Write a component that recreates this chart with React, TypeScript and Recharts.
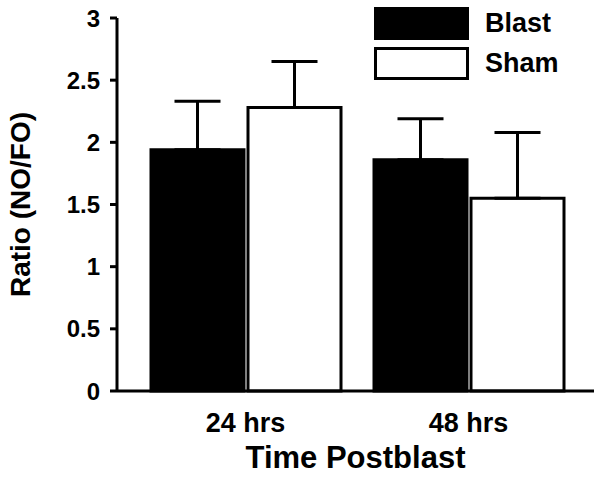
import { Bar, BarChart, ErrorBar, Legend, XAxis, YAxis } from "recharts";

const timepoints = ["24 hrs", "48 hrs"];
const blastMean = [1.94, 1.86];
const blastSem = [0.39, 0.33];
const shamMean = [2.28, 1.55];
const shamSem = [0.37, 0.53];
const yTicks = [0, 0.5, 1, 1.5, 2, 2.5, 3];

const FONT = "'Liberation Sans', Arial, sans-serif";

// error bars only go up, so the low side is 0
const rows = timepoints.map((t, i) => ({
  time: t,
  blast: blastMean[i],
  sham: shamMean[i],
  blastErr: [0, blastSem[i]],
  shamErr: [0, shamSem[i]],
}));

const legendItems = [
  { name: "Blast", fill: "#000" },
  { name: "Sham", fill: "#fff" },
];

function LegendBox() {
  return (
    <div style={{ fontFamily: FONT, fontWeight: 700, fontSize: 27 }}>
      {legendItems.map((it, i) => (
        <div
          key={it.name}
          style={{ display: "flex", alignItems: "center", height: 33, marginBottom: i === 0 ? 7 : 0 }}
        >
          <div
            style={{
              width: 95,
              height: 33,
              boxSizing: "border-box",
              background: it.fill,
              border: "3px solid #000",
            }}
          />
          <span style={{ marginLeft: 16, color: "#000", lineHeight: "33px" }}>{it.name}</span>
        </div>
      ))}
    </div>
  );
}

export default function App() {
  return (
    <div style={{ position: "absolute", left: 0, top: 0, background: "#fff" }}>
      <BarChart
        width={604}
        height={477}
        data={rows}
        margin={{ top: 18, right: 10, left: 0, bottom: 0 }}
        barCategoryGap={17}
        barGap={4}
      >
        <XAxis
          dataKey="time"
          height={86}
          padding={{ left: 17, right: 14 }}
          tickLine={false}
          tickSize={0}
          tickMargin={22}
          axisLine={{ stroke: "#000", strokeWidth: 3 }}
          tick={{ fill: "#000", fontSize: 27, fontWeight: 700, fontFamily: FONT }}
          label={{
            content: (p: any) => {
              const vb = p.viewBox;
              return (
                <text
                  x={vb.x + vb.width / 2}
                  y={468}
                  textAnchor="middle"
                  fill="#000"
                  fontSize={31}
                  fontWeight={700}
                  fontFamily={FONT}
                >
                  Time Postblast
                </text>
              );
            },
          }}
        />
        <YAxis
          width={117}
          domain={[0, 3]}
          ticks={yTicks}
          interval={0}
          tickSize={7}
          tickMargin={10}
          tickLine={{ stroke: "#000", strokeWidth: 3 }}
          axisLine={{ stroke: "#000", strokeWidth: 3 }}
          tick={{ fill: "#000", fontSize: 24, fontWeight: 700, fontFamily: FONT }}
          label={{
            content: (p: any) => {
              const vb = p.viewBox;
              const cy = vb.y + vb.height / 2;
              return (
                <text
                  x={30}
                  y={cy}
                  transform={`rotate(-90, 30, ${cy})`}
                  textAnchor="middle"
                  fill="#000"
                  fontSize={28}
                  fontWeight={700}
                  fontFamily={FONT}
                >
                  Ratio (NO/FO)
                </text>
              );
            },
          }}
        />
        <Legend
          layout="horizontal"
          verticalAlign="middle"
          align="center"
          content={() => <LegendBox />}
          wrapperStyle={{ left: 374, top: 7, width: "auto", height: "auto" }}
        />
        <Bar dataKey="blast" name="Blast" fill="#000" stroke="#000" strokeWidth={3} isAnimationActive={false}>
          <ErrorBar dataKey="blastErr" direction="y" width={23} stroke="#000" strokeWidth={3} />
        </Bar>
        <Bar dataKey="sham" name="Sham" fill="#fff" stroke="#000" strokeWidth={3} isAnimationActive={false}>
          <ErrorBar dataKey="shamErr" direction="y" width={23} stroke="#000" strokeWidth={3} />
        </Bar>
      </BarChart>
    </div>
  );
}
